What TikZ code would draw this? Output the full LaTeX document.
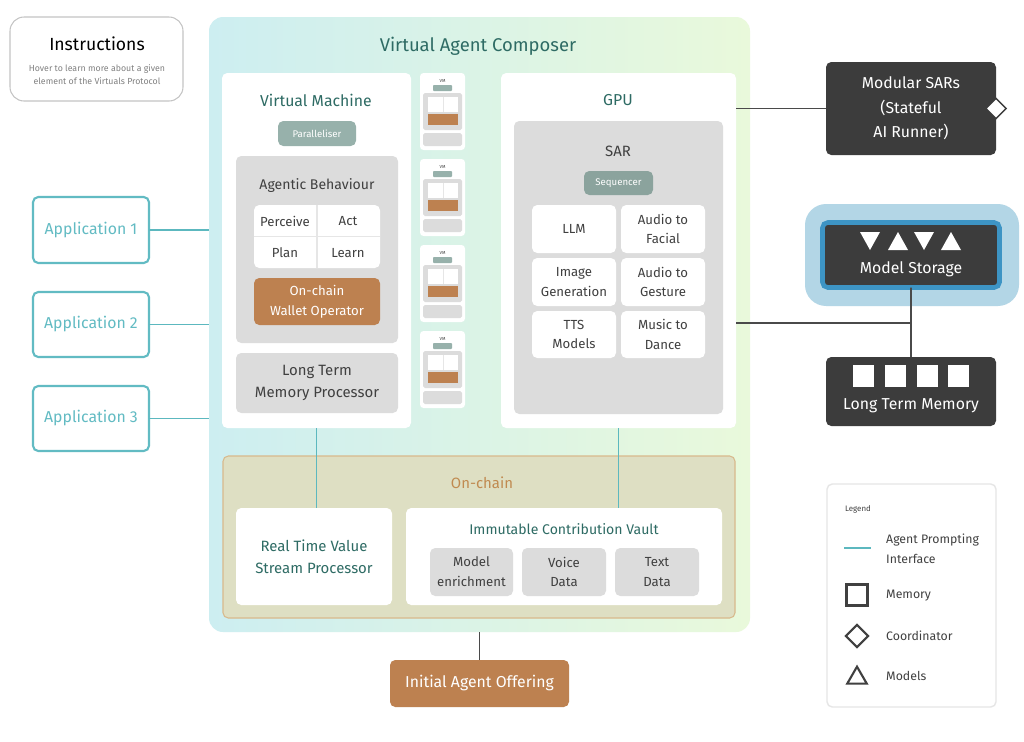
\documentclass[tikz,border=0pt]{standalone}
\usepackage{fontspec}
\setmainfont{Fira Sans}
\usetikzlibrary{positioning,fit,shapes.geometric}

\definecolor{vacA}{HTML}{CDEEF1}
\definecolor{vacB}{HTML}{E9F9DB}
\definecolor{tealtxt}{HTML}{2E6B64}
\definecolor{darktxt}{HTML}{404040}
\definecolor{greyfill}{HTML}{DCDCDC}
\definecolor{tagfill}{HTML}{97B1AB}
\definecolor{orangefill}{HTML}{BD8150}
\definecolor{appteal}{HTML}{62BBC3}
\definecolor{apiline}{HTML}{5CB8BF}
\definecolor{darkfill}{HTML}{3C3C3C}
\definecolor{linkgray}{HTML}{4A4A4A}
\definecolor{onchainfill}{HTML}{DEDFC3}
\definecolor{onchainedge}{HTML}{D8B98C}
\definecolor{onchaintxt}{HTML}{C08A50}
\definecolor{msouter}{HTML}{B3D6E6}
\definecolor{msedge}{HTML}{3D94C4}
\definecolor{framegray}{HTML}{C4C4C4}
\definecolor{gridgray}{HTML}{E6E6E6}

\newcommand{\fsz}[2]{\fontsize{#1}{#2}\selectfont}

\begin{document}
\begin{tikzpicture}[x=0.02cm,y=-0.02cm,
    fitbox/.style={inner sep=0pt, outer sep=0pt, rounded corners=3pt, fit={#1}},
    panel/.style={fitbox={#1}, fill=white},
    greybox/.style={fitbox={#1}, fill=greyfill},
    tagbox/.style={fitbox={#1}, fill=tagfill},
    orangebox/.style={fitbox={#1}, fill=orangefill},
    appbox/.style={fitbox={#1}, draw=appteal, line width=1.2pt, fill=white},
    darkbox/.style={fitbox={#1}, fill=darkfill},
    ttl/.style={text=tealtxt, font=\fsz{9}{11}},
    txt/.style={text=darktxt, font=\fsz{7.5}{11.3}, align=center},
    whitetxt/.style={text=white, font=\fsz{7.5}{11.3}, align=center},
    tagtxt/.style={text=white, font=\fsz{5.5}{7}},
    apptxt/.style={text=appteal, font=\fsz{9}{11}},
    darktxtw/.style={text=white, font=\fsz{9}{14}, align=center},
    api/.style={draw=apiline, line width=1pt},
    link/.style={draw=linkgray, line width=1pt},
    legtxt/.style={text=darktxt, font=\fsz{7}{11.3}, anchor=west, align=left},
    legsym/.style={draw=darktxt, line width=1.2pt, fill=white, inner sep=0pt}]
  \useasboundingbox (0,0) rectangle (1024,741);
  \fill[white] (0,0) rectangle (1024,741);

  % instructions
  \node[fitbox={(10,17) (183,101)}, draw=framegray, line width=.6pt, rounded corners=8pt] (instr) {};
  \node[text=black, font=\fsz{10}{12}] (instrttl) at (97,44) {Instructions};
  \node[text=gray, font=\fsz{5}{7.5}, align=center] (instrtxt) at (97,75) {Hover to learn more about a given\\element of the Virtuals Protocol};

  % composer
  \node[fitbox={(209,17) (750,632)}, rounded corners=8pt, left color=vacA, right color=vacB] (vac) {};
  \node[ttl, font=\fsz{10.5}{12}] (vacttl) at (478,46) {Virtual Agent Composer};

  % virtual machine
  \node[panel={(222,73) (411,428)}] (vm) {};
  \node[ttl] (vmttl) at (316,100) {Virtual Machine};
  \node[tagbox={(278,121) (356,146)}] (par) {};
  \node[tagtxt] (partxt) at (par.center) {Paralleliser};
  \node[greybox={(236,156) (398,343)}] (agb) {};
  \node[txt, font=\fsz{8}{10}] (agbttl) at (317,186) {Agentic Behaviour};
  \node[panel={(254,205) (380,268)}] (grid) {};
  \draw[gridgray, line width=.8pt] (grid.north) -- (grid.south) (grid.west) -- (grid.east);
  \node[txt] (perc) at (285,221) {Perceive};
  \node[txt] (act) at (348,221) {Act};
  \node[txt] (plan) at (285,253) {Plan};
  \node[txt] (learn) at (348,253) {Learn};
  \node[orangebox={(254,278) (380,325)}] (wal) {};
  \node[whitetxt] (waltxt) at (wal.center) {On-chain\\Wallet Operator};
  \node[greybox={(236,353) (398,413)}] (ltmp) {};
  \node[txt, font=\fsz{8.5}{12.5}] (ltmptxt) at (ltmp.center) {Long Term\\Memory Processor};

  % stacked vm copies
  \foreach \i in {0,...,3} {
    \pgfmathsetmacro{\cy}{73+86*\i}
    \fill[white, rounded corners=2pt] (420,\cy) rectangle (465,\cy+77);
    \node[text=darktxt, font=\fsz{2.5}{3}] at (442.5,\cy+8) {VM};
    \fill[tagfill, rounded corners=.5pt] (433,\cy+12) rectangle (452,\cy+18);
    \fill[greyfill, rounded corners=1pt] (423,\cy+20) rectangle (462,\cy+57);
    \fill[white] (428,\cy+24) rectangle (458,\cy+39);
    \draw[gridgray, line width=.3pt] (443,\cy+24) -- (443,\cy+39);
    \fill[orangefill] (428,\cy+41) rectangle (458,\cy+52);
    \fill[greyfill, rounded corners=1pt] (423,\cy+60) rectangle (462,\cy+73);
  }

  % gpu
  \node[panel={(501,73) (736,428)}] (gpu) {};
  \node[ttl] (gputtl) at (618,100) {GPU};
  \node[greybox={(514,121) (723,414)}] (sar) {};
  \node[txt, font=\fsz{8.5}{10}] (sarttl) at (618,151) {SAR};
  \node[tagbox={(584,171) (653,195)}, fill=tagfill!92!black] (seq) {};
  \node[tagtxt] (seqtxt) at (seq.center) {Sequencer};
  \foreach \nm/\ax/\ay/\bx/\by/\lbl in {
      llm/532/205/616/253/LLM, a2f/621/205/705/253/{Audio to\\Facial},
      img/532/258/616/306/{Image\\Generation}, a2g/621/258/705/306/{Audio to\\Gesture},
      tts/532/311/616/358/{TTS\\Models}, m2d/621/311/705/358/{Music to\\Dance}} {
    \node[panel={(\ax,\ay) (\bx,\by)}] (\nm) {};
    \node[txt] (\nm txt) at (\nm.center) {\lbl};
  }

  % on-chain
  \node[fitbox={(223,456) (735,618)}, fill=onchainfill, draw=onchainedge, line width=.6pt] (onc) {};
  \node[text=onchaintxt, font=\fsz{8.5}{10}] (oncttl) at (482,483) {On-chain};
  \node[panel={(236,508) (392,605)}] (rtv) {};
  \node[ttl, font=\fsz{8.5}{12.5}, align=center] (rtvtxt) at (rtv.center) {Real Time Value\\Stream Processor};
  \node[panel={(406,508) (722,605)}] (icv) {};
  \node[ttl, font=\fsz{8}{10}] (icvttl) at (564,529) {Immutable Contribution Vault};
  \foreach \nm/\ax/\bx/\lbl in {menr/430/513/{Model\\enrichment}, voice/522/606/{Voice\\Data}, textd/615/699/{Text\\Data}} {
    \node[greybox={(\ax,548) (\bx,596)}] (\nm) {};
    \node[txt] (\nm txt) at (\nm.center) {\lbl};
  }

  \draw[api] (vm.south) -- (vm.south |- rtv.north);
  \draw[api] (gpu.south) -- (gpu.south |- icv.north);

  % offering
  \node[orangebox={(390,660) (569,707)}] (iao) {};
  \node[whitetxt, font=\fsz{9}{11}] (iaotxt) at (iao.center) {Initial Agent Offering};
  \draw[link] (iao.north |- vac.south) -- (iao.north);

  % applications
  \foreach \n/\ya/\yb in {1/197/263, 2/292/357, 3/386/451} {
    \node[appbox={(33,\ya) (149,\yb)}] (app\n) {};
    \node[apptxt] (app\n txt) at (app\n.center) {Application \n};
    \draw[api] (app\n.east) -- (app\n.east -| vac.west);
  }

  % modular sars
  \node[darkbox={(826,62) (996,155)}] (msar) {};
  \node[darktxtw] (msartxt) at (msar.center) {Modular SARs\\(Stateful\\AI Runner)};
  \node[diamond, draw=darkfill, fill=white, line width=.8pt, inner sep=0pt, minimum width=0.42cm, minimum height=0.42cm] (msarco) at (msar.east) {};
  \draw[link] (msar.west -| gpu.east) -- (msar.west);

  % model storage
  \node[fitbox={(805,204) (1019,306)}, fill=msouter, rounded corners=12pt] (msbg) {};
  \node[darkbox={(822.5,222.5) (999.5,287.5)}, draw=msedge, line width=2.6pt] (ms) {};
  \foreach \cx/\d in {870/1,898/-1,924/1,951/-1}
    \fill[white] (\cx-10,241-9*\d) -- (\cx+10,241-9*\d) -- (\cx,241+9*\d) -- cycle;
  \node[text=white, font=\fsz{9}{11}] (mslbl) at (911,269) {Model Storage};

  % long term memory
  \node[darkbox={(826,357) (996,426)}] (ltm) {};
  \foreach \sx in {853,885,917,948}
    \fill[white] (\sx,365) rectangle (\sx+21,387);
  \node[text=white, font=\fsz{9}{11}] (ltmlbl) at (911,406) {Long Term Memory};
  \draw[link] (ms.south) -- (ltm.north);
  \coordinate (tap) at (911,323);
  \draw[link] (tap -| gpu.east) -- (tap);

  % legend
  \node[fitbox={(827,484) (996,707)}, draw=gridgray, line width=.8pt, fill=white] (leg) {};
  \node[text=darktxt, font=\fsz{4.5}{6}] (legttl) at (858,509) {Legend};
  \coordinate (lapiA) at (844,548);
  \coordinate (lapiB) at (871,548);
  \draw[api] (lapiA) -- (lapiB);
  \node[legtxt] (legapi) at (880,549) {Agent Prompting\\Interface};
  \node[legsym, minimum size=0.42cm] (legmem) at (857,595) {};
  \node[legtxt] (legmemtxt) at (880,596) {Memory};
  \node[legsym, diamond, minimum width=0.46cm, minimum height=0.46cm] (legco) at (857,636) {};
  \node[legtxt] (legcotxt) at (880,636) {Coordinator};
  \node[legsym, isosceles triangle, isosceles triangle apex angle=60, shape border rotate=90, minimum height=0.34cm] (legmod) at (857,678) {};
  \node[legtxt] (legmodtxt) at (880,676) {Models};
\end{tikzpicture}
\end{document}
